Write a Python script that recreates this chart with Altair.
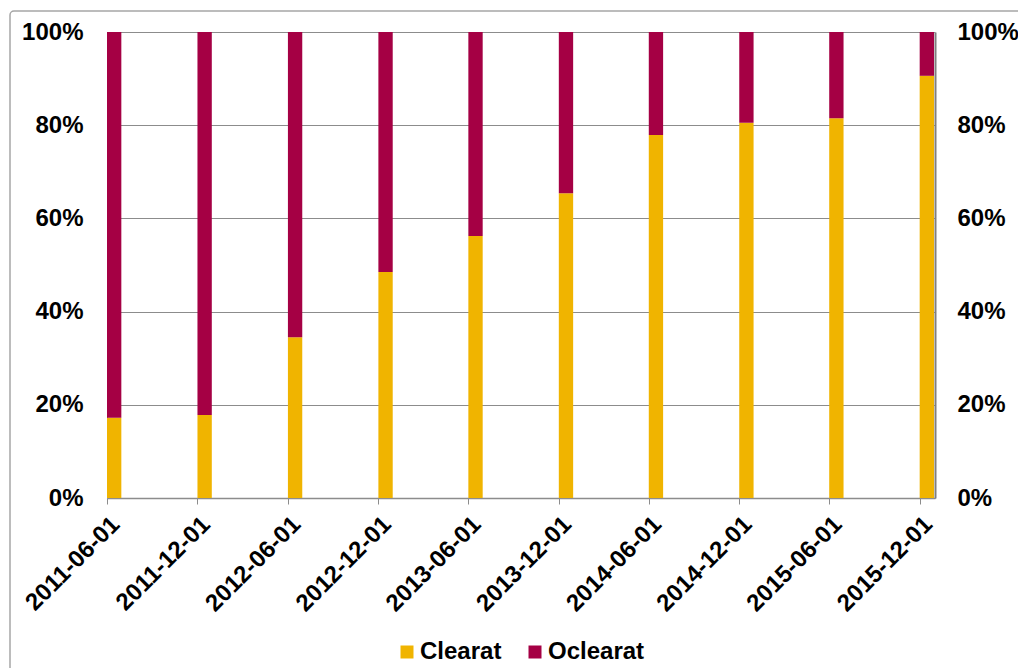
import altair as alt
import pandas as pd

dates = ["2011-06-01", "2011-12-01", "2012-06-01", "2012-12-01", "2013-06-01",
         "2013-12-01", "2014-06-01", "2014-12-01", "2015-06-01", "2015-12-01"]
clearat = [0.172, 0.178, 0.345, 0.485, 0.562, 0.654, 0.779, 0.805, 0.815, 0.906]
oclearat = [0.828, 0.822, 0.655, 0.515, 0.438, 0.346, 0.221, 0.195, 0.185, 0.094]
series = ["Clearat", "Oclearat"]
colors = ["#F0B400", "#A50044"]
y_ticks = [0, 0.2, 0.4, 0.6, 0.8, 1.0]

rows = []
for d, c, o in zip(dates, clearat, oclearat):
    rows.append({"date": d, "serie": series[0], "value": c, "ord": 0})
    rows.append({"date": d, "serie": series[1], "value": o, "ord": 1})
df = pd.DataFrame(rows)

FONT = "Liberation Sans"
FS = 24
GRAY = "#8C8C8C"


def dt(s):
    y, m, d = (int(p) for p in s.split("-"))
    return alt.DateTime(year=y, month=m, date=d, utc=True)


x_scale = alt.Scale(type="utc", domain=[dt("2011-06-01"), dt("2016-01-01")])
y_scale = alt.Scale(domain=[0, 1])

base = alt.Chart(df).transform_calculate(
    start="toDate(datum.date)",
    end="utcOffset('date', toDate(datum.date), 29)",
).transform_stack(
    stack="value",
    groupby=["date"],
    as_=["y0", "y1"],
    sort=[alt.SortField("ord", order="ascending")],
)

x_axis = alt.Axis(
    values=[dt(d) for d in dates],
    labelExpr="utcFormat(datum.value, '%Y-%m-%d')",
    labelAngle=-45,
    labelFont=FONT,
    labelFontSize=FS,
    labelFontWeight="bold",
    labelColor="black",
    labelPadding=8,
    tickSize=6,
    tickColor=GRAY,
    domainColor=GRAY,
    domainWidth=1.5,
    grid=False,
    labelOverlap=False,
)
x_enc = alt.X("start:T", scale=x_scale, title=None, axis=x_axis)

bars = base.mark_bar(stroke=None).encode(
    x=x_enc,
    x2="end:T",
    y=alt.Y(
        "y0:Q",
        scale=y_scale,
        title=None,
        axis=alt.Axis(
            orient="left",
            values=y_ticks,
            format=".0%",
            labelFont=FONT,
            labelFontSize=FS,
            labelFontWeight="bold",
            labelColor="black",
            labelPadding=24,
            ticks=False,
            domainColor=GRAY,
            grid=True,
            gridColor=GRAY,
            gridWidth=1,
        ),
    ),
    y2="y1:Q",
    color=alt.Color(
        "serie:N",
        scale=alt.Scale(domain=series, range=colors),
        legend=alt.Legend(
            title=None,
            orient="none",
            direction="horizontal",
            legendX=288,
            legendY=608,
            symbolType="square",
            symbolSize=169,
            symbolStrokeWidth=0,
            labelFont=FONT,
            labelFontSize=FS,
            labelFontWeight="bold",
            labelColor="black",
            labelOffset=1,
            columnPadding=21,
            padding=0,
        ),
    ),
)

right = base.mark_bar(opacity=0).encode(
    x=x_enc,
    x2="end:T",
    y=alt.Y(
        "y0:Q",
        scale=y_scale,
        title=None,
        axis=alt.Axis(
            orient="right",
            values=y_ticks,
            format=".0%",
            labelFont=FONT,
            labelFontSize=FS,
            labelFontWeight="bold",
            labelColor="black",
            labelPadding=22,
            ticks=False,
            domainColor="#7F7F7F",
            domainWidth=2,
            grid=False,
        ),
    ),
    y2="y1:Q",
)

frame = alt.Chart(pd.DataFrame({"k": [0]})).mark_rect(
    fill=None, stroke="#A6A6A6", strokeWidth=1.5, cornerRadius=4
).encode(
    x=alt.value(-97), x2=alt.value(960), y=alt.value(-21), y2=alt.value(700)
)

chart = alt.layer(frame, bars, right).resolve_axis(y="independent").properties(
    width=828,
    height=466,
    padding={"left": 107, "top": 32, "right": 83, "bottom": 170},
    autosize=alt.AutoSizeParams(type="none"),
    background="white",
).configure_view(stroke=None)

chart.save("out.html", embed_options={"renderer": "svg", "actions": False})
